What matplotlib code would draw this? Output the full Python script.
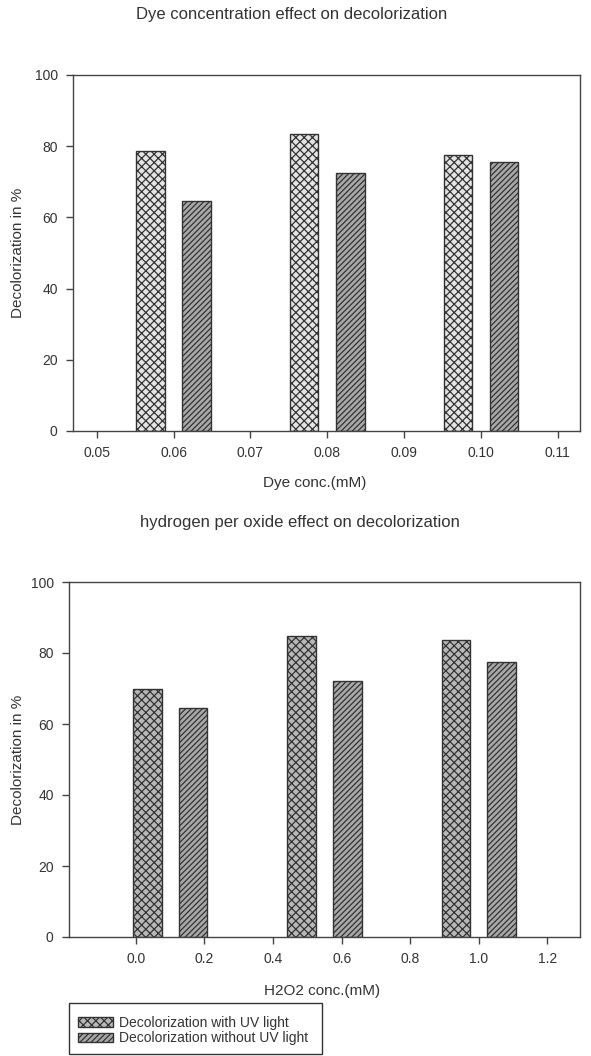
import numpy as np
import matplotlib
matplotlib.use('Agg')
import matplotlib.pyplot as plt
from matplotlib.patches import Patch, Rectangle

plt.rcParams['font.family'] = ['Liberation Sans', 'DejaVu Sans']
plt.rcParams['hatch.linewidth'] = 0.9

# data
dye_conc = [0.06, 0.08, 0.10]
dye_with_uv = [78.7, 83.4, 77.4]
dye_without_uv = [64.7, 72.6, 75.6]

h2o2_conc = [0.1, 0.55, 1.0]
h2o2_with_uv = [69.9, 84.9, 83.7]
h2o2_without_uv = [64.4, 72.1, 77.4]

dye_ticks = [0.05, 0.06, 0.07, 0.08, 0.09, 0.10, 0.11]
h2o2_ticks = [0.0, 0.2, 0.4, 0.6, 0.8, 1.0, 1.2]
y_ticks = [0, 20, 40, 60, 80, 100]

edge = '#333333'
W, H = 591, 1056
fig = plt.figure(figsize=(W / 100, H / 100), dpi=100)


def box(l, t, r, b):
    return [l / W, 1 - b / H, (r - l) / W, (b - t) / H]


def style(ax, ticks, fmt, xlim):
    ax.set_xlim(*xlim)
    ax.set_ylim(0, 100)
    ax.set_xticks(ticks)
    ax.set_xticklabels([fmt % t for t in ticks])
    ax.set_yticks(y_ticks)
    ax.tick_params(direction='out', length=5, width=1, color='#444444',
                   labelsize=10, labelcolor='#333333', pad=6)
    for s in ax.spines.values():
        s.set_color('#444444')
        s.set_linewidth(1)


# top chart
ax1 = fig.add_axes(box(73, 75, 580, 431))
d = np.array(dye_conc)
ax1.bar(d - 0.003, dye_with_uv, width=0.0037, color='#e4e4e4',
        edgecolor=edge, hatch='xxxx', linewidth=1)
ax1.bar(d + 0.003, dye_without_uv, width=0.0037, color='#a8a8a8',
        edgecolor=edge, hatch='//////', linewidth=1)
style(ax1, dye_ticks, '%.2f', (0.0469, 0.1129))

# bottom chart
ax2 = fig.add_axes(box(69, 582, 580, 937))
h = np.array(h2o2_conc)
ax2.bar(h - 0.0667, h2o2_with_uv, width=0.084, color='#b8b8b8',
        edgecolor=edge, hatch='xxxx', linewidth=1)
ax2.bar(h + 0.0667, h2o2_without_uv, width=0.084, color='#a8a8a8',
        edgecolor=edge, hatch='//////', linewidth=1)
style(ax2, h2o2_ticks, '%.1f', (-0.195, 1.295))

# texts
tc = '#333333'
fig.text(292 / W, 1 - 14 / H, 'Dye concentration effect on decolorization',
         ha='center', va='center', fontsize=12, color=tc)
fig.text(300 / W, 1 - 522 / H, 'hydrogen per oxide effect on decolorization',
         ha='center', va='center', fontsize=12, color=tc)
fig.text(315 / W, 1 - 483 / H, 'Dye conc.(mM)', ha='center', va='center',
         fontsize=11, color=tc)
fig.text(322 / W, 1 - 991 / H, 'H2O2 conc.(mM)', ha='center', va='center',
         fontsize=11, color=tc)
fig.text(18 / W, 1 - 253 / H, 'Decolorization in %', rotation=90,
         ha='center', va='center', fontsize=11, color=tc)
fig.text(18 / W, 1 - 760 / H, 'Decolorization in %', rotation=90,
         ha='center', va='center', fontsize=11, color=tc)

# legend with its own box
fig.add_artist(Rectangle((69 / W, 1 - 1054 / H), (322 - 69) / W, 51 / H,
                         transform=fig.transFigure, facecolor='white',
                         edgecolor='#333333', linewidth=1))
handles = [Patch(facecolor='#b8b8b8', edgecolor=edge, hatch='xxxx',
                 label='Decolorization with UV light'),
           Patch(facecolor='#a8a8a8', edgecolor=edge, hatch='//////',
                 label='Decolorization without UV light')]
leg = fig.legend(handles=handles, loc='upper left',
                 bbox_to_anchor=(78 / W, 1 - 1016 / H), fontsize=10,
                 frameon=False, borderaxespad=0, borderpad=0,
                 handlelength=2.5, handleheight=0.65, labelspacing=0.1,
                 handletextpad=0.45)
for t in leg.get_texts():
    t.set_color(tc)

fig.savefig('out.png', dpi=100)
